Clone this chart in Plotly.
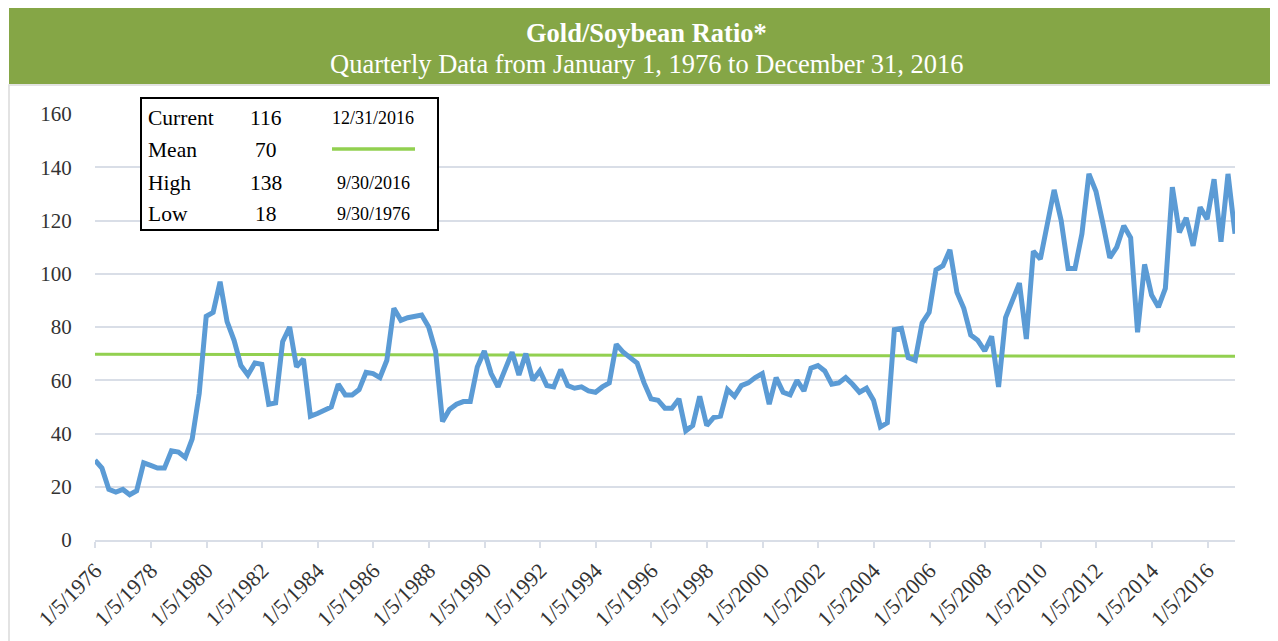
import pandas as pd
import plotly.graph_objects as go

# ---- data ----
ratio = [30, 27, 19, 18, 19, 17, 18.5, 29, 28, 27, 27, 33.5, 33, 31, 38, 55,
         84, 85.5, 97, 82, 75, 65.5, 62, 66.5, 66, 51, 51.5, 74.5, 80, 65, 68, 46.5,
         47.5, 49, 50, 58.5, 54.5, 54.5, 56.5, 63, 62.5, 61, 67.5, 87, 82.5, 83.5, 84, 84.5,
         80, 71, 44.5, 49, 51, 52, 52, 65, 71, 62.5, 57.5, 63.5, 70.5, 62, 70, 60,
         63.5, 58, 57.5, 64, 58, 57, 57.5, 56, 55.5, 57.5, 59, 73.5, 70.5, 68.5, 66.5, 59,
         53, 52.5, 49.5, 49.5, 53, 41, 43, 54, 43, 46, 46.5, 56.5, 54, 58, 59, 61,
         62.5, 51, 61, 55.5, 54.5, 60, 56, 64.5, 65.5, 63.5, 58.5, 59, 61, 58.5, 55.5, 57,
         52.5, 42.5, 44, 79, 79.5, 68.5, 67.5, 81.5, 85.5, 101.5, 103, 109, 93, 87, 77, 75,
         71, 76.5, 57.5, 83.5, 89.5, 96.5, 75.5, 108.5, 105.5, 118, 131.5, 120, 102, 102, 115, 137.5,
         131, 119, 106, 110, 118, 113.5, 78, 103.5, 92, 87.5, 94.5, 132.5, 115.5, 121, 110.5, 125,
         120.5, 135.5, 112, 137.5, 115]
dates = pd.date_range("1975-12-31", periods=len(ratio), freq="QE")
mean_ends = [69.8, 69.0]
tick_years = list(range(1976, 2017, 2))
tick_vals = [pd.Timestamp(y, 1, 5) for y in tick_years]
tick_text = [f"1/5/{y}" for y in tick_years]
y_ticks = [0, 20, 40, 60, 80, 100, 120, 140, 160]

stats_labels = ["Current", "Mean", "High", "Low"]
stats_values = ["116", "70", "138", "18"]
stats_dates = ["12/31/2016", "", "9/30/2016", "9/30/1976"]

title = "Gold/Soybean Ratio*"
subtitle = "Quarterly Data from January 1, 1976 to December 31, 2016"

# ---- layout geometry (screen pixels; the page body adds an 8px offset) ----
OFF = 8
W, H = 1278 - OFF, 641 - OFF
L, R, T, B = 95, 1235, 114, 540   # plot area in screen pixels
def px(x):
    return (x - L) / (R - L)
def py(y):
    return (B - y) / (B - T)

SERIF = "Liberation Serif, Times New Roman, serif"
GRID = "#D9DEE7"
BAR_GREEN = "#85A646"
MEAN_GREEN = "#92D050"
BLUE = "#5B9BD5"

fig = go.Figure()
fig.add_trace(go.Scatter(x=[dates[0], dates[-1]], y=mean_ends, mode="lines",
                         line=dict(color=MEAN_GREEN, width=3), hoverinfo="skip"))
fig.add_trace(go.Scatter(x=dates, y=ratio, mode="lines",
                         line=dict(color=BLUE, width=5)))

shapes = []
# outer chart border
shapes.append(dict(type="rect", xref="paper", yref="paper",
                   x0=px(9), x1=px(1290), y0=py(660), y1=py(85),
                   line=dict(color="#DADADA", width=1.5), fillcolor="rgba(0,0,0,0)", layer="below"))
# title bar
shapes.append(dict(type="rect", xref="paper", yref="paper",
                   x0=px(9), x1=px(1290), y0=py(84), y1=py(8),
                   line=dict(width=0), fillcolor=BAR_GREEN, layer="above"))
# stats box
shapes.append(dict(type="rect", xref="paper", yref="paper",
                   x0=px(141), x1=px(438), y0=py(230), y1=py(98),
                   line=dict(color="black", width=2), fillcolor="white", layer="above"))
# mean swatch in box
shapes.append(dict(type="line", xref="paper", yref="paper",
                   x0=px(332), x1=px(415), y0=py(149), y1=py(149),
                   line=dict(color=MEAN_GREEN, width=3.5), layer="above"))

annotations = [
    dict(text=f"<b>{title}</b>", x=px(646), y=py(33), xref="paper", yref="paper",
         showarrow=False, font=dict(family=SERIF, size=26.5, color="white"),
         xanchor="center", yanchor="middle"),
    dict(text=subtitle, x=px(647), y=py(64), xref="paper", yref="paper",
         showarrow=False, font=dict(family=SERIF, size=26.5, color="white"),
         xanchor="center", yanchor="middle"),
]
row_y = [118, 150, 183, 214]
for lab, val, dt, yy in zip(stats_labels, stats_values, stats_dates, row_y):
    annotations.append(dict(text=lab, x=px(146), y=py(yy), xref="paper", yref="paper",
                            showarrow=False, xanchor="left", yanchor="middle",
                            font=dict(family=SERIF, size=21.5, color="black")))
    annotations.append(dict(text=val, x=px(266), y=py(yy), xref="paper", yref="paper",
                            showarrow=False, xanchor="center", yanchor="middle",
                            font=dict(family=SERIF, size=21.5, color="black")))
    if dt:
        annotations.append(dict(text=dt, x=px(373), y=py(yy), xref="paper", yref="paper",
                                showarrow=False, xanchor="center", yanchor="middle",
                                font=dict(family=SERIF, size=18, color="black")))

fig.update_layout(
    width=W, height=H,
    margin=dict(l=L - OFF, r=W + OFF - R, t=T - OFF, b=H + OFF - B, pad=0, autoexpand=False),
    paper_bgcolor="white", plot_bgcolor="white",
    showlegend=False,
    shapes=shapes, annotations=annotations,
    xaxis=dict(type="date", range=[dates[0], dates[-1]], automargin=False,
               tickmode="array", tickvals=tick_vals, ticktext=tick_text,
               tickangle=-45, tickfont=dict(family=SERIF, size=22, color="#333333"),
               showgrid=False, showline=True, linecolor=GRID, linewidth=2,
               ticks="outside", ticklen=6, tickcolor=GRID, tickwidth=2, zeroline=False,
               ticklabelstandoff=1),
    yaxis=dict(range=[0, 160], tickmode="array", tickvals=y_ticks, automargin=False,
               tickfont=dict(family=SERIF, size=21, color="#333333"),
               showgrid=True, gridcolor=GRID, gridwidth=2, zeroline=False,
               ticks="outside", ticklen=18, tickcolor="rgba(0,0,0,0)"),
)

fig.write_html("out.html")
